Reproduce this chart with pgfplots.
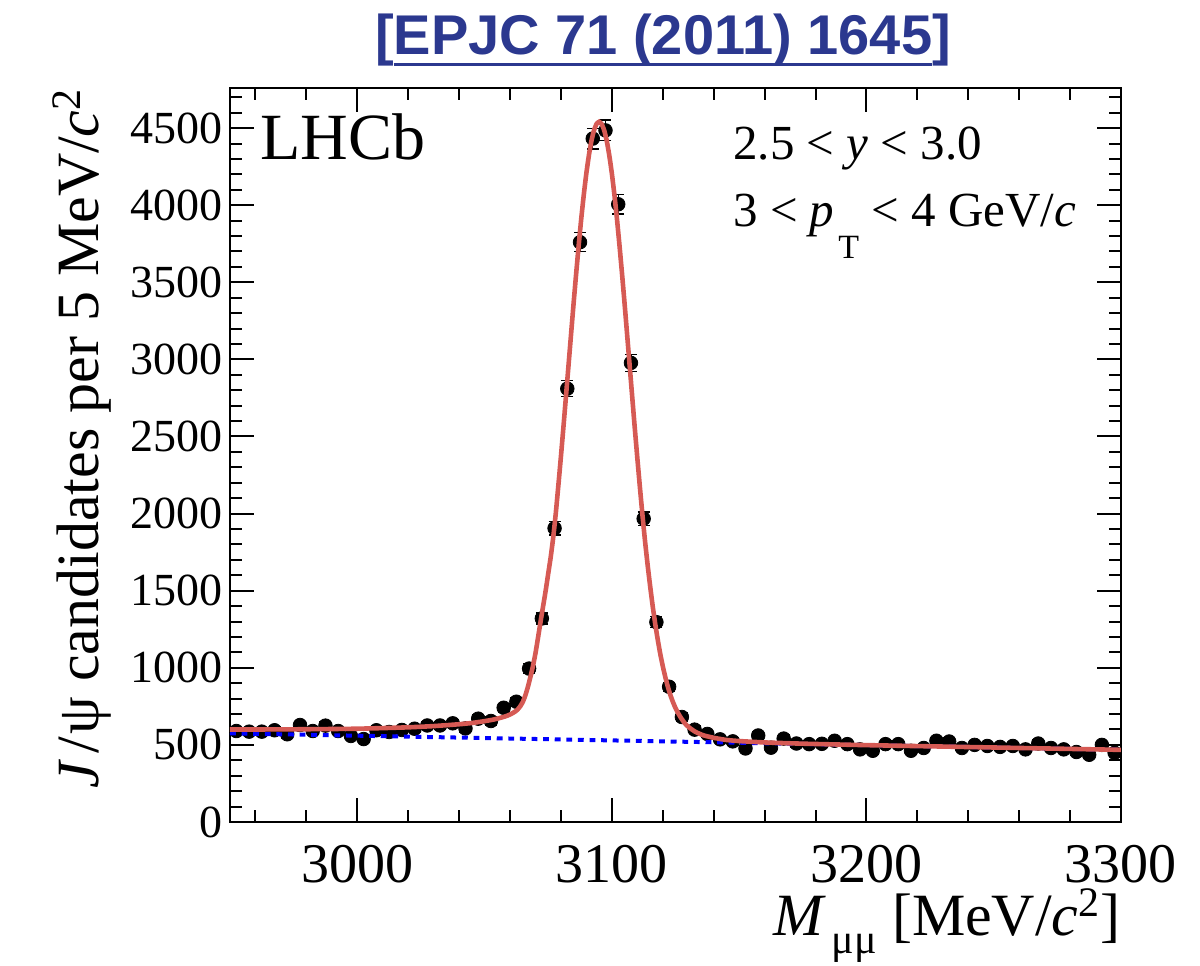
\documentclass[border=0pt]{standalone}
\usepackage{fontspec}
\setmainfont{Liberation Serif}
\newfontfamily\titlefont{Liberation Sans}
\usepackage{pgfplots}
\usepackage{pgfplotstable}
\pgfplotsset{compat=1.18}
\definecolor{fitred}{RGB}{214,90,84}
\definecolor{titleblue}{RGB}{43,56,143}
\newcommand\ulbox[1]{\setbox0\hbox{#1}\rlap{\rule[-6pt]{\wd0}{1.5pt}}\box0}

\pgfplotstableread{
x y e
2952.5 590 24
2957.5 586 24
2962.5 586 24
2967.5 595 24
2972.5 569 24
2977.5 629 25
2982.5 590 24
2987.5 625 25
2992.5 590 24
2997.5 558 24
3002.5 538 23
3007.5 595 24
3012.5 584 24
3017.5 597 24
3022.5 605 25
3027.5 626 25
3032.5 626 25
3037.5 640 25
3042.5 607 25
3047.5 670 26
3052.5 655 26
3057.5 741 27
3062.5 780 28
3067.5 995 32
3072.5 1320 36
3077.5 1905 44
3082.5 2810 53
3087.5 3760 61
3092.5 4432 67
3097.5 4485 67
3102.5 4006 63
3107.5 2977 55
3112.5 1967 44
3117.5 1296 36
3122.5 877 30
3127.5 681 26
3132.5 599 24
3137.5 571 24
3142.5 536 23
3147.5 523 23
3152.5 477 22
3157.5 561 24
3162.5 482 22
3167.5 541 23
3172.5 509 23
3177.5 505 22
3182.5 507 23
3187.5 527 23
3192.5 505 22
3197.5 471 22
3202.5 462 21
3207.5 505 22
3212.5 505 22
3217.5 462 21
3222.5 480 22
3227.5 527 23
3232.5 522 23
3237.5 480 22
3242.5 500 22
3247.5 493 22
3252.5 487 22
3257.5 493 22
3262.5 471 22
3267.5 509 23
3272.5 480 22
3277.5 471 22
3282.5 454 21
3287.5 436 21
3292.5 500 22
3297.5 449 21
}\datatable

\pgfplotstableread{
x y
2950 600
2960 600
2975 601
2990 603
3000 605
3010 609
3020 614
3030 622
3040 634
3045 642
3050 654
3054 666
3058 684
3060 697
3062 716
3063 730
3064 750
3065 778
3066 820
3067 875
3068 940
3069 1010
3070 1095
3071 1195
3072 1300
3073 1400
3074 1500
3075 1610
3076 1720
3077 1850
3078 2006
3079 2185
3080 2371
3081 2565
3082 2765
3083 2966
3084 3168
3085 3368
3086 3560
3087 3744
3088 3916
3089 4071
3090 4209
3091 4325
3092 4419
3093 4486
3094 4527
3095 4541
3096 4526
3097 4485
3098 4417
3099 4322
3100 4206
3101 4068
3102 3912
3103 3739
3104 3555
3105 3362
3106 3161
3107 2959
3108 2757
3109 2556
3110 2362
3111 2175
3112 1995
3113 1827
3114 1675
3115 1535
3116 1405
3117 1289
3118 1185
3119 1092
3120 1011
3121 940
3122 877
3123 823
3124 778
3125 739
3126 707
3127 679
3128 655
3129 634
3130 618
3131 605
3133 583
3136 562
3140 546
3145 532
3150 525
3160 516
3175 508
3200 498.5
3250 483.2
3300 467.9
}\fittable

\pgfplotstableread{
x y
2950 575
3300 468
}\bgtable

\begin{document}
\begin{tikzpicture}
\path[use as bounding box] (-115pt,-71.5pt) rectangle (485pt,411pt);
\begin{axis}[
  at={(0pt,0pt)}, anchor=south west,
  scale only axis, width=445.5pt, height=367pt,
  xmin=2950, xmax=3300, ymin=0, ymax=4760,
  xtick={3000,3100,3200,3300},
  minor xtick={2960,2980,...,3300},
  ytick={0,500,...,4500},
  minor ytick={100,200,...,4700},
  tick align=inside,
  major tick length=12pt, minor tick length=6pt,
  tick style={line width=1pt, black},
  axis line style={line width=1pt},
  /pgf/number format/assume math mode=true,
  /pgf/number format/1000 sep={},
  yticklabel style={font=\fontsize{23}{23}\selectfont, inner sep=0pt, xshift=-3.6pt},
  xticklabel style={font=\fontsize{28}{28}\selectfont, inner sep=0pt, yshift=-11.5pt},
  xlabel={\textit{M}\kern3pt\raisebox{-9pt}{\fontsize{21}{21}\selectfont μμ} [MeV/\textit{c}\textsuperscript{2}]},
  xlabel style={at={(axis description cs:1,-0.154)}, anchor=base east, inner sep=0pt, font=\fontsize{30}{30}\selectfont},
  ylabel={\textit{J}\kern3pt/\kern1ptψ candidates per 5 MeV/\textit{c}\textsuperscript{2}},
  ylabel style={at={(axis description cs:-0.1474,1.0)}, anchor=base east, inner sep=0pt, font=\fontsize{30}{30}\selectfont},
  clip mode=individual,
]
\addplot[only marks, mark=*, mark size=3.4pt, black,
  error bars/.cd, y dir=both, y explicit,
  error bar style={line width=0.6pt, black},
  error mark options={rotate=90, mark size=3pt, line width=0.6pt, black}]
  table[x=x, y=y, y error=e] {\datatable};
\addplot[blue, line width=2pt, dash pattern=on 2.9pt off 2.9pt] table[x=x,y=y] {\bgtable};
\addplot[fitred, line width=2.3pt, smooth, tension=0.3] table[x=x,y=y] {\fittable};
\node[anchor=base west, inner sep=0pt, font=\fontsize{33}{33}\selectfont] at (axis description cs:0.0337,0.903) {LHCb};
\node[anchor=base west, inner sep=0pt, font=\fontsize{24.5}{24.5}\selectfont] at (axis description cs:0.5645,0.902) {2.5 < \textit{y} < 3.0};
\node[anchor=base west, inner sep=0pt, font=\fontsize{24.5}{24.5}\selectfont] at (axis description cs:0.5645,0.811) {3 < \textit{p}\kern2pt\raisebox{-16pt}{\fontsize{17}{17}\selectfont T} < 4 GeV/\textit{c}};
\node[anchor=base, inner sep=0pt, text=titleblue, font=\titlefont\bfseries\fontsize{28}{28}\selectfont] at (axis description cs:0.486,1.0463) {[\ulbox{EPJC 71 (2011) 1645}]};
\end{axis}
\end{tikzpicture}
\end{document}
